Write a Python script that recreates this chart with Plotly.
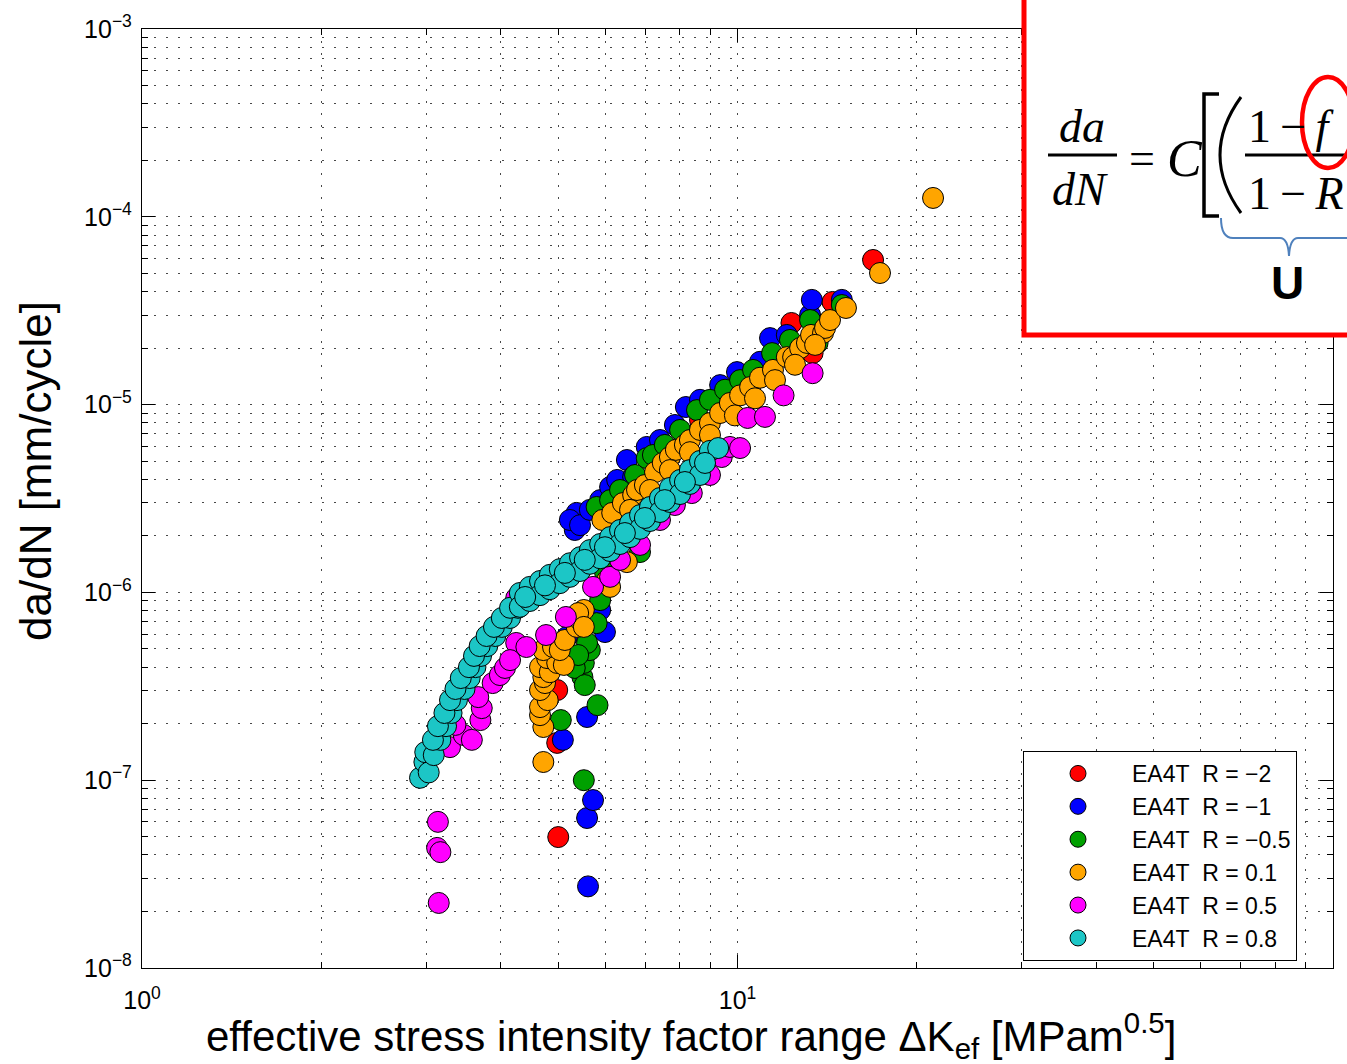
import plotly.graph_objects as go

# ---------------- data ----------------
red_dk = [5.00, 4.98, 4.98, 6.35, 7.41, 8.65, 10.29, 12.32, 13.37, 14.44, 16.89]
red_da = [4.98e-8, 1.58e-7, 3.02e-7, 2.92e-6, 4.95e-6, 8.28e-6, 1.39e-5, 2.72e-5, 1.88e-5, 3.52e-5, 5.89e-5]

blue_dk = [5.61, 5.59, 5.72, 5.09, 5.59, 5.99, 5.17, 5.88, 5.33, 5.37, 5.23, 5.44, 5.65, 5.88, 6.11,
           6.28, 6.52, 6.68, 7.04, 7.41, 7.85, 8.19, 8.65, 9.35, 9.98, 10.91, 11.34, 12.10, 13.24, 13.33, 14.97]
blue_da = [2.72e-8, 6.29e-8, 7.84e-8, 1.64e-7, 2.17e-7, 6.15e-7, 5.79e-7, 8.06e-7, 2.15e-6, 2.65e-6, 2.43e-6,
           2.28e-6, 2.75e-6, 3.10e-6, 3.64e-6, 3.97e-6, 5.07e-6, 4.12e-6, 5.95e-6, 6.48e-6, 7.79e-6, 9.71e-6,
           1.06e-5, 1.27e-5, 1.49e-5, 1.69e-5, 2.26e-5, 2.35e-5, 3.0e-5, 3.61e-5, 3.61e-5]

green_dk = [5.05, 5.52, 5.82, 5.49, 5.52, 5.65, 5.59, 5.80, 5.88, 5.33, 5.54, 5.40, 5.99, 6.86, 5.80, 6.11,
            6.35, 6.73, 7.04, 7.21, 7.55, 8.01, 8.55, 8.99, 9.53, 10.10, 10.62, 11.43, 12.25, 13.63, 13.24, 14.97]
green_da = [2.09e-7, 1.00e-7, 2.51e-7, 3.54e-7, 4.21e-7, 4.93e-7, 5.38e-7, 6.86e-7, 9.1e-7, 3.96e-7, 3.21e-7,
            4.64e-7, 1.28e-6, 1.64e-6, 2.85e-6, 3.10e-6, 3.51e-6, 4.22e-6, 5.19e-6, 5.39e-6, 6.10e-6, 7.33e-6,
            9.35e-6, 1.06e-5, 1.20e-5, 1.35e-5, 1.53e-5, 1.88e-5, 2.21e-5, 2.13e-5, 2.82e-5, 3.39e-5]

orange_dk = [4.72, 4.72, 4.66, 4.66, 4.80, 4.66, 4.75, 4.72, 4.66, 4.84, 4.79, 4.98, 5.11, 4.72, 4.90, 5.03,
             5.13, 5.37, 5.44, 5.52, 5.40, 5.52, 6.04, 6.11, 6.52, 5.93, 6.16, 6.42, 6.68, 6.78, 6.99, 7.27,
             7.49, 7.70, 7.88, 8.16, 8.32, 8.65, 8.99, 9.35, 9.71, 10.10, 10.50, 10.91, 11.47, 12.10, 12.40,
             12.74, 13.08, 13.29, 13.92, 14.03, 14.30, 15.21, 17.35, 21.30,
             6.60, 7.13, 7.70, 8.32, 8.99, 9.90, 10.70, 11.56, 12.49, 13.50]
orange_da = [1.25e-7, 1.92e-7, 2.22e-7, 2.45e-7, 2.67e-7, 3.02e-7, 3.29e-7, 3.54e-7, 4.00e-7, 3.76e-7, 4.47e-7,
             4.21e-7, 4.11e-7, 4.93e-7, 5.12e-7, 4.93e-7, 5.58e-7, 6.55e-7, 7.13e-7, 8.06e-7, 7.76e-7, 6.55e-7,
             1.16e-6, 1.07e-6, 1.45e-6, 2.43e-6, 2.65e-6, 2.99e-6, 3.30e-6, 3.51e-6, 3.73e-6, 4.37e-6, 4.89e-6,
             5.26e-6, 5.74e-6, 6.10e-6, 6.48e-6, 7.33e-6, 7.98e-6, 9.02e-6, 1.02e-5, 1.12e-5, 1.24e-5, 1.39e-5,
             1.53e-5, 1.79e-5, 1.79e-5, 2.0e-5, 2.13e-5, 2.35e-5, 2.41e-5, 2.56e-5, 2.82e-5, 3.27e-5, 5.02e-5, 1.26e-4,
             2.75e-6, 3.51e-6, 4.48e-6, 5.58e-6, 6.89e-6, 8.76e-6, 1.08e-5, 1.35e-5, 1.63e-5, 2.08e-5]

magenta_dk = [3.14, 3.13, 3.17, 3.15, 3.29, 3.47, 3.58, 3.70, 3.72, 3.67, 3.36, 3.88, 3.99, 4.07, 4.25, 4.42,
              4.15, 4.25, 4.77, 5.15, 5.72, 6.11, 6.35, 6.86, 7.41, 7.85, 8.38, 8.99, 9.41, 9.71, 10.10, 10.40,
              11.12, 11.95, 13.37]
magenta_da = [6.0e-8, 4.36e-8, 4.14e-8, 2.22e-8, 1.50e-7, 1.74e-7, 1.64e-7, 2.09e-7, 2.42e-7, 2.77e-7, 1.97e-7,
              3.29e-7, 3.63e-7, 3.96e-7, 5.38e-7, 5.12e-7, 4.36e-7, 9.33e-7, 5.93e-7, 7.4e-7, 1.07e-6, 1.21e-6,
              1.49e-6, 1.79e-6, 2.43e-6, 2.92e-6, 3.38e-6, 4.22e-6, 5.26e-6, 5.95e-6, 5.87e-6, 8.49e-6, 8.60e-6,
              1.12e-5, 1.47e-5]

cyan_dk = [2.93, 2.98, 2.99,
           3.03, 3.09, 3.17, 3.24, 3.31, 3.38, 3.48, 3.55, 3.63, 3.71, 3.80, 3.92, 4.02, 4.15, 4.28,
           3.08, 3.14, 3.22, 3.29, 3.36, 3.43, 3.54, 3.61, 3.69, 3.79, 3.90, 4.02, 4.15,
           4.31, 4.48, 4.66, 4.84, 5.03, 5.23, 5.44, 5.65, 5.88, 6.11, 6.35, 6.60, 6.86, 7.13, 7.41, 7.70,
           8.01, 8.32, 8.65, 8.99, 9.28,
           4.31, 4.48, 4.66, 4.84, 5.03, 5.23, 5.44, 5.65, 5.88, 6.11, 6.35, 6.60, 6.86, 7.13, 7.41, 7.70,
           8.01, 8.32, 8.65,
           4.40, 4.75, 5.13, 5.54, 5.99, 6.47, 6.99, 7.55, 8.16, 8.82]
cyan_da = [1.03e-7, 1.25e-7, 1.41e-7,
           1.10e-7, 1.36e-7, 1.64e-7, 1.94e-7, 2.28e-7, 2.67e-7, 3.06e-7, 3.50e-7, 4.00e-7, 4.59e-7, 5.18e-7,
           5.86e-7, 6.55e-7, 7.31e-7, 8.28e-7,
           1.64e-7, 1.94e-7, 2.28e-7, 2.67e-7, 3.06e-7, 3.50e-7, 4.00e-7, 4.59e-7, 5.18e-7, 5.86e-7, 6.55e-7,
           7.31e-7, 8.28e-7,
           9.93e-7, 1.07e-6, 1.15e-6, 1.24e-6, 1.33e-6, 1.43e-6, 1.54e-6, 1.68e-6, 1.81e-6, 1.97e-6, 2.15e-6,
           2.34e-6, 2.58e-6, 2.85e-6, 3.18e-6, 3.60e-6, 3.97e-6, 4.48e-6, 5.01e-6, 5.67e-6, 5.87e-6,
           8.38e-7, 9.0e-7, 9.67e-7, 1.04e-6, 1.12e-6, 1.21e-6, 1.30e-6, 1.42e-6, 1.52e-6, 1.66e-6, 1.81e-6,
           1.97e-6, 2.18e-6, 2.40e-6, 2.68e-6, 3.03e-6, 3.34e-6, 3.78e-6, 4.22e-6,
           9.45e-7, 1.09e-6, 1.27e-6, 1.49e-6, 1.74e-6, 2.07e-6, 2.49e-6, 3.10e-6, 3.87e-6, 4.89e-6]

series_names = ["EA4T\u00a0\u00a0R = \u22122", "EA4T\u00a0\u00a0R = \u22121", "EA4T\u00a0\u00a0R = \u22120.5",
                "EA4T\u00a0\u00a0R = 0.1", "EA4T\u00a0\u00a0R = 0.5", "EA4T\u00a0\u00a0R = 0.8"]
series_colors = ["#ff0000", "#0000ff", "#00a000", "#ffa500", "#ff00ff", "#1cc6c6"]
series_x = [red_dk, blue_dk, green_dk, orange_dk, magenta_dk, cyan_dk]
series_y = [red_da, blue_da, green_da, orange_da, magenta_da, cyan_da]

x_tickvals = [1, 10, 100]
x_ticktext = ["10<sup>0</sup>", "10<sup>1</sup>", "10<sup>2</sup>"]
y_tickvals = [1e-8, 1e-7, 1e-6, 1e-5, 1e-4, 1e-3]
y_ticktext = ["10<sup>\u22128</sup>", "10<sup>\u22127</sup>", "10<sup>\u22126</sup>",
              "10<sup>\u22125</sup>", "10<sup>\u22124</sup>", "10<sup>\u22123</sup>"]

# ---------------- figure ----------------
W, H = 1347, 1064
L, R, T, B = 142, 1333, 29, 968


def px(x):
    return (x - L) / (R - L)


def py(y):
    return (B - y) / (B - T)


SANS = "Liberation Sans, Arial, Helvetica, sans-serif"
SERIF = "Liberation Serif, Times New Roman, serif"
GRID = "rgba(40,40,40,0.85)"
DASH = "1.5px,10.5px"

fig = go.Figure()
for name, xs, ys, col in zip(series_names, series_x, series_y, series_colors):
    fig.add_trace(go.Scatter(
        x=xs, y=ys, mode="markers", name=name,
        marker=dict(size=21, color=col, line=dict(color="black", width=1)),
    ))

x_minor = [v * d for d in (1, 10) for v in range(2, 10)]
y_minor = [v * 10.0 ** e for e in range(-8, -3) for v in range(2, 10)]

axis_common = dict(
    type="log", showline=True, linecolor="black", linewidth=1.3, mirror="ticks",
    ticks="inside", ticklen=13, tickwidth=1.2, tickcolor="black",
    showgrid=True, gridcolor=GRID, gridwidth=1.4, griddash=DASH, zeroline=False,
    tickfont=dict(family=SANS, size=25, color="black"), tickmode="array",
)

fig.update_xaxes(range=[0, 2], tickvals=x_tickvals, ticktext=x_ticktext, ticklabelstandoff=10,
                 minor=dict(tickmode="array", tickvals=x_minor, ticks="inside", ticklen=6, tickwidth=1,
                            tickcolor="black", showgrid=True, gridcolor=GRID, gridwidth=1.4, griddash=DASH),
                 **axis_common)
fig.update_yaxes(range=[-8, -3], tickvals=y_tickvals, ticktext=y_ticktext, ticklabelstandoff=4,
                 minor=dict(tickmode="array", tickvals=y_minor, ticks="inside", ticklen=6, tickwidth=1,
                            tickcolor="black", showgrid=True, gridcolor=GRID, gridwidth=1.4, griddash=DASH),
                 **axis_common)

shapes = [
    # inset box with formula
    dict(type="rect", xref="paper", yref="paper", x0=px(1024), x1=px(1420), y0=py(335), y1=py(-30),
         fillcolor="white", line=dict(color="#ff0000", width=5), layer="above"),
    # fraction bar da/dN
    dict(type="line", xref="paper", yref="paper", x0=px(1048), x1=px(1117), y0=py(155), y1=py(155),
         line=dict(color="black", width=3), layer="above"),
    # fraction bar (1-f)/(1-R)
    dict(type="line", xref="paper", yref="paper", x0=px(1245), x1=px(1420), y0=py(155), y1=py(155),
         line=dict(color="black", width=3), layer="above"),
    # square bracket
    dict(type="path", xref="paper", yref="paper", layer="above",
         path="M %f %f L %f %f L %f %f L %f %f" % (px(1219), py(94), px(1204), py(94), px(1204), py(216),
                                                   px(1219), py(216)),
         line=dict(color="black", width=3.5)),
    # parenthesis
    dict(type="path", xref="paper", yref="paper", layer="above",
         path="M %f %f Q %f %f %f %f" % (px(1241), py(97), px(1199), py(155), px(1241), py(213)),
         line=dict(color="black", width=3)),
    # red ellipse around f
    dict(type="circle", xref="paper", yref="paper", layer="above",
         x0=px(1302), x1=px(1354), y0=py(168), y1=py(77), line=dict(color="#ff0000", width=4.5)),
    # blue brace
    dict(type="path", xref="paper", yref="paper", layer="above",
         path="M %f %f Q %f %f %f %f L %f %f Q %f %f %f %f Q %f %f %f %f L %f %f" % (
             px(1221), py(218), px(1221), py(238), px(1233), py(238),
             px(1280), py(238), px(1288), py(238), px(1289), py(256),
             px(1290), py(238), px(1298), py(238), px(1420), py(238)),
         line=dict(color="#4f81bd", width=2)),
]

annotations = [
    dict(text="<i>da</i>", x=px(1082), y=py(127), font=dict(family=SERIF, size=46, color="black")),
    dict(text="<i>dN</i>", x=px(1080), y=py(190), font=dict(family=SERIF, size=46, color="black")),
    dict(text="=", x=px(1142), y=py(158), font=dict(family=SERIF, size=46, color="black")),
    dict(text="<i>C</i>", x=px(1185), y=py(158), font=dict(family=SERIF, size=52, color="black")),
    dict(text="1\u2009\u2212\u2009<i>f</i>", x=px(1246), y=py(126), xanchor="left",
         font=dict(family=SERIF, size=46, color="black")),
    dict(text="1\u2009\u2212\u2009<i>R</i>", x=px(1246), y=py(193), xanchor="left",
         font=dict(family=SERIF, size=46, color="black")),
    dict(text="<b>U</b>", x=px(1287), y=py(283), font=dict(family=SANS, size=46, color="black")),
    # axis titles
    dict(text="effective stress intensity factor range \u0394K<sub>ef</sub> [MPam<sup>0.5</sup>]",
         x=px(691), y=py(1035), borderpad=0, font=dict(family=SANS, size=42, color="black")),
    dict(text="da/dN [mm/cycle]", x=px(35), y=py(471), textangle=-90,
         font=dict(family=SANS, size=44, color="black")),
]
for a in annotations:
    a.update(xref="paper", yref="paper", showarrow=False)
    a.setdefault("xanchor", "center")
    a.setdefault("yanchor", "middle")

fig.update_layout(
    width=W, height=H, margin=dict(l=L, r=W - R, t=T, b=H - B, pad=0),
    paper_bgcolor="white", plot_bgcolor="white",
    showlegend=True,
    legend=dict(x=px(1023), y=py(751), xanchor="left", yanchor="top", bgcolor="white",
                bordercolor="black", borderwidth=1, itemwidth=98, tracegroupgap=0,
                font=dict(family=SANS, size=23, color="black")),
    shapes=shapes, annotations=annotations,
)

fig.write_html("out.html")
